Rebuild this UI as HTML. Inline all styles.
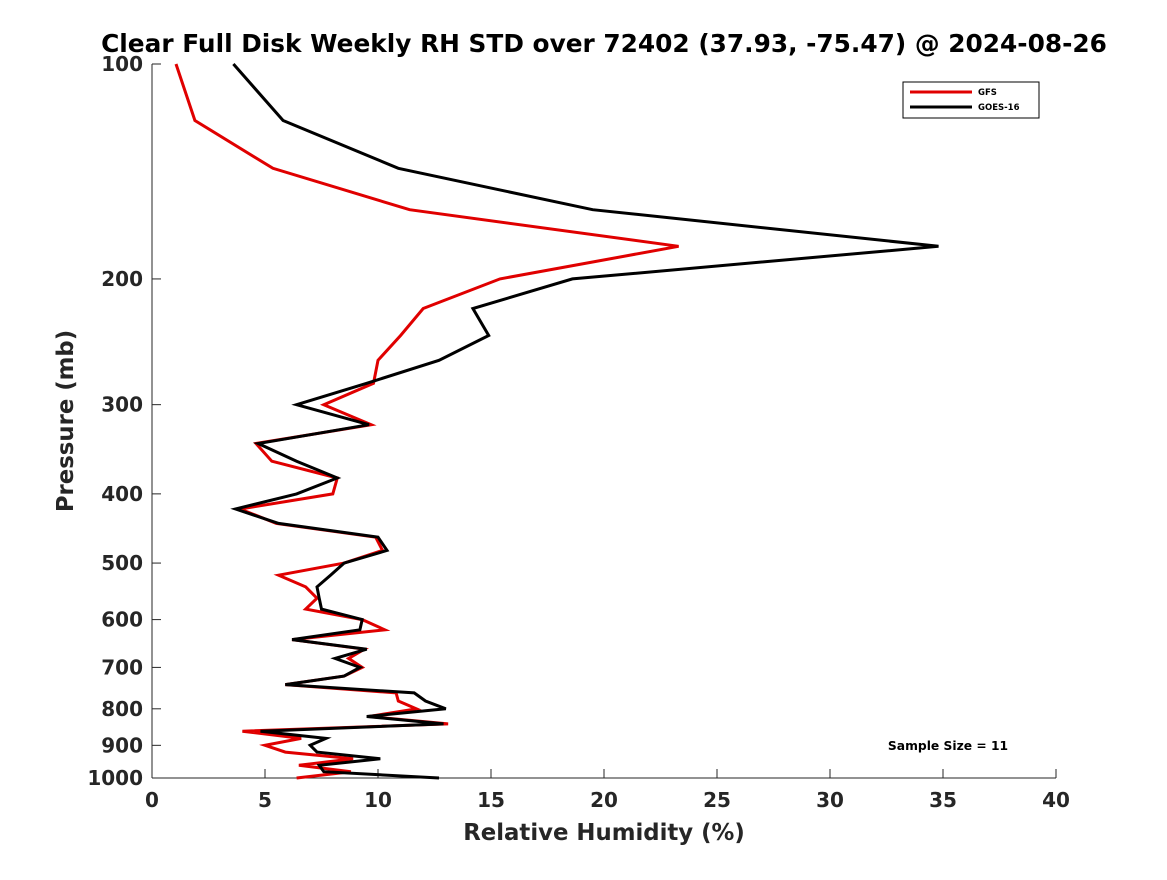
<!DOCTYPE html>
<html><head><meta charset="utf-8"><style>
body{margin:0;background:#fff;}
svg text{font-family:"DejaVu Sans",sans-serif;font-weight:bold;fill:#262626;}
</style></head><body>
<svg id="chart" width="1167" height="875" xmlns="http://www.w3.org/2000/svg">
<text x="604" y="52" text-anchor="middle" font-size="24.8" style="fill:#000">Clear Full Disk Weekly RH STD over 72402 (37.93, -75.47) @ 2024-08-26</text>
<g id="axes"></g>
<g id="series"></g>
<g>
<rect x="903" y="82" width="136" height="36" fill="#fff" stroke="#000" stroke-width="1"/>
<line x1="910" y1="92" x2="972" y2="92" stroke="#e00000" stroke-width="3"/>
<text x="978" y="95" font-size="8.5" style="fill:#000">GFS</text>
<line x1="910" y1="107" x2="972" y2="107" stroke="#000" stroke-width="3"/>
<text x="978" y="110" font-size="8.5" style="fill:#000">GOES-16</text>
</g>
<text x="948" y="750" text-anchor="middle" font-size="12.3" style="fill:#000">Sample Size = 11</text>
<text x="604" y="840" text-anchor="middle" font-size="22.8">Relative Humidity (%)</text>
<text transform="translate(73,421) rotate(-90)" text-anchor="middle" font-size="22.8">Pressure (mb)</text>
</svg>
<script>
const pressures=[100,120,140,160,180,200,220,240,260,280,300,320,340,360,380,400,420,440,460,480,500,520,540,560,580,600,620,640,660,680,700,720,740,760,780,800,820,840,860,880,900,920,940,960,980,1000];
const gfs=[1.06,1.9,5.35,11.4,23.3,15.4,12.0,11.0,10.0,9.8,7.6,9.7,4.6,5.3,8.2,8.0,3.9,5.5,9.9,10.2,8.5,5.6,6.8,7.3,6.8,9.3,10.3,6.2,9.4,8.7,9.3,8.5,5.9,10.8,10.9,11.7,9.6,13.1,4.0,6.6,5.0,5.9,8.9,6.5,8.8,6.4];
const goes=[3.6,5.8,10.9,19.5,34.8,18.6,14.2,14.9,12.7,9.5,6.4,9.6,4.7,6.4,8.2,6.4,3.7,5.6,10.0,10.4,8.5,7.9,7.3,7.4,7.5,9.3,9.2,6.2,9.5,8.1,9.2,8.5,5.9,11.6,12.1,13.0,9.5,12.9,4.8,7.7,7.0,7.3,10.1,7.4,7.6,12.7];
const xTicks=[0,5,10,15,20,25,30,35,40];
const yTicks=[100,200,300,400,500,600,700,800,900,1000];
const X0=152,X1=1056,Y0=64,Y1=778;
function xs(v){return X0+(v/40)*(X1-X0);}
function ys(p){return Y0+(Math.log10(p)-2)*(Y1-Y0);}
const NS="http://www.w3.org/2000/svg";
const axes=document.getElementById('axes'),ser=document.getElementById('series');
function mk(tag,at,parent){const e=document.createElementNS(NS,tag);for(const k in at)e.setAttribute(k,at[k]);parent.appendChild(e);return e;}
const xa=mk('line',{x1:X0,y1:Y1,x2:X1,y2:Y1,stroke:'#262626','stroke-width':1},axes);


const ya=mk('line',{x1:X0,y1:Y0,x2:X0,y2:Y1,stroke:'#262626','stroke-width':1},axes);


xTicks.forEach(t=>{
  mk('line',{x1:xs(t),y1:Y1,x2:xs(t),y2:Y1-9,stroke:'#262626'},axes);
  const tx=mk('text',{x:xs(t),y:Y1+29,'text-anchor':'middle','font-size':20},axes);
  tx.textContent=t;
  
  
});
yTicks.forEach(t=>{
  mk('line',{x1:X0,y1:ys(t),x2:X0+9,y2:ys(t),stroke:'#262626'},axes);
  const tx=mk('text',{x:X0-9,y:ys(t)+7,'text-anchor':'end','font-size':20},axes);
  tx.textContent=t;
  
  
});
function line(vals,color,name){
  const pts=vals.map((v,i)=>xs(v).toFixed(1)+','+ys(pressures[i]).toFixed(1)).join(' ');
  const pl=mk('polyline',{points:pts,fill:'none',stroke:color,'stroke-width':3,'stroke-linejoin':'miter'},ser);
  
  
}
line(gfs,'#e00000','gfs-line');
line(goes,'#000000','goes16-line');
</script>
</body></html>
